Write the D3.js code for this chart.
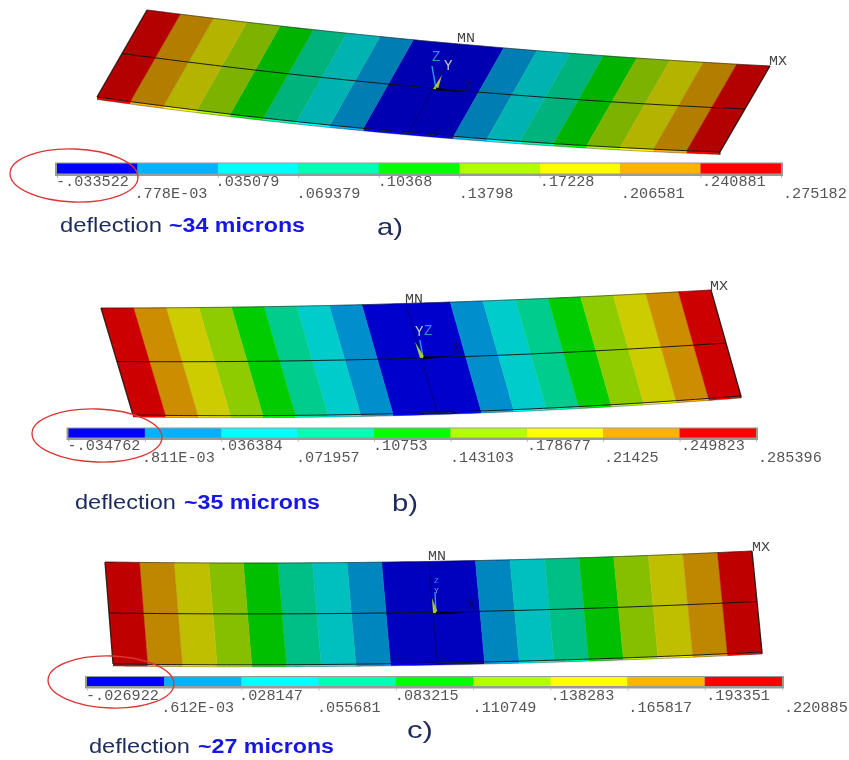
<!DOCTYPE html>
<html>
<head>
<meta charset="utf-8">
<script src="https://cdnjs.cloudflare.com/ajax/libs/d3/7.8.5/d3.min.js"></script>
<style>
  html, body { margin: 0; padding: 0; background: #fff; }
  svg { display: block; }
  .tick-label { font-family: "Liberation Mono", monospace; fill: #555; }
  .node-label { font-family: "Liberation Mono", monospace; fill: #444; font-size: 12.5px; }
  .caption { font-family: "Liberation Sans", sans-serif; }
</style>
</head>
<body>
<svg id="chart" width="849" height="760"></svg>
<script>
// contour levels read from the three legends
var valuesA = [-.033522, .000778, .035079, .069379, .10368, .13798, .17228, .206581, .240881, .275182];
var valuesB = [-.034762, .000811, .036384, .071957, .10753, .143103, .178677, .21425, .249823, .285396];
var valuesC = [-.026922, .000612, .028147, .055681, .083215, .110749, .138283, .165817, .193351, .220885];

var labelsA = ["-.033522", ".778E-03", ".035079", ".069379", ".10368", ".13798", ".17228", ".206581", ".240881", ".275182"];
var labelsB = ["-.034762", ".811E-03", ".036384", ".071957", ".10753", ".143103", ".178677", ".21425", ".249823", ".285396"];
var labelsC = ["-.026922", ".612E-03", ".028147", ".055681", ".083215", ".110749", ".138283", ".165817", ".193351", ".220885"];

var bandColors = ["#0000ff", "#00b2ff", "#00ffff", "#00ffb2", "#00ff00", "#b2ff00", "#ffff00", "#ffb200", "#ff0000"];
var microns = ["~34 microns", "~35 microns", "~27 microns"];
var panelNames = ["a)", "b)", "c)"];

// page layout, one entry per panel
var layout = [
  { tl: [147, 10],  tr: [770, 66],  bl: [97, 97],   br: [720, 152], bowT: 6,   bowB: 8, side: 2.5, shade: .7,
    bar: [55, 783, 162.5, 176], rows: [186, 198],
    caption: [60, 162, 169, 305, 232], name: [377, 235], ring: [74, 175.5, 64, 26.5, 2],
    mn: [457, 42], mx: [769, 65],
    origin: [436, 89], z: [432, 66], y: [442, 75], x: [462, 92],
    zt: [432, 61], yt: [444, 70], xt: [465, 90] },
  { tl: [101, 308], tr: [711, 290], bl: [133, 415], br: [741, 396], bowT: 4.5, bowB: 7, side: 2, shade: .8,
    bar: [66.5, 758, 427.5, 440], rows: [450, 461.5],
    caption: [75, 176, 184, 320, 509], name: [392, 511], ring: [97, 435.5, 65, 26.5, 2],
    mn: [405, 303], mx: [710, 290],
    origin: [423, 358], z: [420, 340], y: [415, 342], x: [452, 356],
    zt: [424, 335], yt: [415, 336], xt: [452, 353] },
  { tl: [105, 562], tr: [752, 551], bl: [113, 664], br: [762, 652], bowT: 5,   bowB: 5, side: 2, shade: .75,
    bar: [85, 784, 676, 688.5], rows: [700, 711.5],
    caption: [89, 190, 198, 334, 753], name: [407, 738], ring: [111, 682, 63, 26, 2],
    mn: [428, 560], mx: [752, 551],
    origin: [436, 613], z: [435, 592], y: [432, 598], x: [467, 613],
    zt: [434, 583], yt: [434, 593], xt: [467, 609] }
];

var allValues = [valuesA, valuesB, valuesC];
var allLabels = [labelsA, labelsB, labelsC];

var svg = d3.select("#chart");
var lerp = function(a, b, t) { return a + (b - a) * t; };

// the source is a soft, rescaled screenshot
svg.append("filter").attr("id", "soft").attr("x", 0).attr("y", 0).attr("width", 1).attr("height", 1)
  .attr("filterUnits", "userSpaceOnUse").attr("x", 0).attr("y", 0).attr("width", 849).attr("height", 760)
  .append("feGaussianBlur").attr("stdDeviation", .35);

layout.forEach(function(p, n) {
  var values = allValues[n], labels = allLabels[n];
  var g = svg.append("g").attr("filter", "url(#soft)");

  // point on the bent plate: u -1..1 along it, v 0..1 across it
  function pt(u, v) {
    var t = (u + 1) / 2, bow = 1 - u * u;
    var xt = lerp(p.tl[0], p.tr[0], t), yt = lerp(p.tl[1], p.tr[1], t) + p.bowT * bow;
    var xb = lerp(p.bl[0], p.br[0], t), yb = lerp(p.bl[1], p.br[1], t) + p.bowB * bow;
    return [lerp(xt, xb, v), lerp(yt, yb, v)];
  }

  // contour value -> distance from the plate centre
  var dist = d3.scaleLinear().domain([values[1], values[9]]).range([.145, 1]);
  var shade = function(c) {
    var r = d3.rgb(c);
    return d3.rgb(r.r * p.shade, r.g * p.shade, r.b * p.shade).formatHex();
  };
  var line = d3.line();

  function stripe(u0, u1, c) {
    var us = d3.range(0, 9).map(function(k) { return lerp(u0, u1, k / 8); });
    var top = us.map(function(u) { return pt(u, 0); });
    var bot = us.map(function(u) { return pt(u, 1); }).reverse();
    var under = us.map(function(u) { var q = pt(u, 1); return [q[0], q[1] + p.side]; });
    g.append("path").attr("d", line(under.concat(bot)) + "Z").attr("fill", c);
    g.append("path").attr("d", line(top.concat(bot)) + "Z").attr("fill", shade(c)).attr("stroke", shade(c)).attr("stroke-width", .4);
  }

  stripe(-dist(values[1]), dist(values[1]), bandColors[0]);
  d3.range(1, 9).forEach(function(i) {
    stripe(-dist(values[i + 1]), -dist(values[i]), bandColors[i]);
    stripe(dist(values[i]), dist(values[i + 1]), bandColors[i]);
  });

  // plate outline, midline, centre line
  var span = d3.range(-1, 1.001, .05);
  var edge = function(v, dy) { return span.map(function(u) { var q = pt(u, v); return [q[0], q[1] + dy]; }); };
  var wire = function(d, w, o) {
    g.append("path").attr("d", d).attr("fill", "none").attr("stroke", "#111").attr("stroke-width", w).attr("stroke-opacity", o);
  };
  wire(line(edge(0, 0)), .8, .65);
  wire(line(edge(.5, 0)), 1, .9);
  wire(line(edge(1, 0)), 1, .9);
  wire(line(edge(1, p.side)), .7, .5);
  wire(line([pt(0, 0), pt(0, 1)]), .7, .55);
  wire(line([pt(-1, 0), pt(-1, 1)]), 1.3, .8);
  wire(line([pt(1, 0), pt(1, 1), [pt(1, 1)[0], pt(1, 1)[1] + p.side]]), 1.3, .85);

  // legend bar
  var left = p.bar[0] + 2, right = p.bar[1] - 2;
  var x = d3.scaleLinear().domain([0, 9]).range([left, right]);
  g.append("rect").attr("x", p.bar[0]).attr("y", p.bar[2])
    .attr("width", p.bar[1] - p.bar[0]).attr("height", p.bar[3] - p.bar[2]).attr("fill", "#9a9a9a");
  g.selectAll(".band").data(bandColors).enter().append("rect")
    .attr("class", "band")
    .attr("x", function(d, i) { return x(i); })
    .attr("y", p.bar[2] + 1)
    .attr("width", function(d, i) { return x(i + 1) - x(i); })
    .attr("height", p.bar[3] - p.bar[2] - 3.5)
    .attr("fill", function(d) { return d; });

  // tick labels sit on two alternating rows and drift a little right of their ticks
  var axis = d3.axisBottom(x).tickValues(d3.range(0, 10))
    .tickFormat(function(i) { return labels[i]; }).tickSize(2);
  var ax = g.append("g").attr("transform", "translate(0," + p.bar[3] + ")").call(axis);
  ax.select(".domain").remove();
  ax.selectAll("line").attr("stroke", "#bbb");
  ax.selectAll("text")
    .attr("class", "tick-label")
    .attr("dy", null)
    .attr("text-anchor", "start")
    .attr("font-size", 15.2)
    .attr("x", function(i) { return i == 0 ? -1.5 : -3.5 + (i - 1) * 5 / 8; })
    .attr("y", function(i) { return p.rows[i % 2] - p.bar[3]; })
    .attr("font-family", null);

  // max / min markers
  g.append("text").attr("class", "node-label").attr("x", p.mn[0]).attr("y", p.mn[1]).attr("textLength", 18).attr("lengthAdjust", "spacingAndGlyphs").text("MN");
  g.append("text").attr("class", "node-label").attr("x", p.mx[0]).attr("y", p.mx[1]).attr("textLength", 18).attr("lengthAdjust", "spacingAndGlyphs").text("MX");

  // coordinate triad
  g.append("line").attr("x1", p.origin[0]).attr("y1", p.origin[1]).attr("x2", p.z[0]).attr("y2", p.z[1])
    .attr("stroke", "#2f9be0").attr("stroke-width", 1.4);
  g.append("path").attr("d", line([[p.origin[0] - 3, p.origin[1]], p.y, [p.origin[0] + 2, p.origin[1]]]) + "Z").attr("fill", "#a8c832");
  g.append("path").attr("d", line([[p.origin[0], p.origin[1] - 1.5], p.x, [p.origin[0], p.origin[1] + 1.5]]) + "Z").attr("fill", "#050520");
  var small = n == 2 ? 8 : 14;
  g.append("text").attr("class", "tick-label").attr("x", p.zt[0]).attr("y", p.zt[1]).attr("font-size", small).attr("style", "fill:#3f86dc").text("Z");
  g.append("text").attr("class", "tick-label").attr("x", p.yt[0]).attr("y", p.yt[1]).attr("font-size", small).attr("style", n == 2 ? "fill:#7fb0e0" : "fill:#c8c8d8").text("Y");
  g.append("text").attr("class", "tick-label").attr("x", p.xt[0]).attr("y", p.xt[1]).attr("font-size", 14).attr("style", "fill:#0a0a60").text("X");

  // captions
  var c = p.caption;
  g.append("text").attr("class", "caption").attr("x", c[0]).attr("y", c[4]).attr("font-size", 19.5).attr("fill", "#1c2c5c")
    .attr("textLength", c[1] - c[0]).attr("lengthAdjust", "spacingAndGlyphs").text("deflection");
  g.append("text").attr("class", "caption").attr("x", c[2]).attr("y", c[4]).attr("font-size", 19.5).attr("font-weight", "bold").attr("fill", "#1414e6")
    .attr("textLength", c[3] - c[2]).attr("lengthAdjust", "spacingAndGlyphs").text(microns[n]);
  g.append("text").attr("class", "caption").attr("x", p.name[0]).attr("y", p.name[1]).attr("font-size", 24).attr("fill", "#1c2c5c")
    .attr("textLength", 26).attr("lengthAdjust", "spacingAndGlyphs").text(panelNames[n]);

  // hand drawn ring round the minimum
  g.append("ellipse").attr("cx", p.ring[0]).attr("cy", p.ring[1]).attr("rx", p.ring[2]).attr("ry", p.ring[3])
    .attr("transform", "rotate(" + p.ring[4] + " " + p.ring[0] + " " + p.ring[1] + ")")
    .attr("fill", "none").attr("stroke", "#dc3434").attr("stroke-width", 1.3);
});
</script>
</body>
</html>
